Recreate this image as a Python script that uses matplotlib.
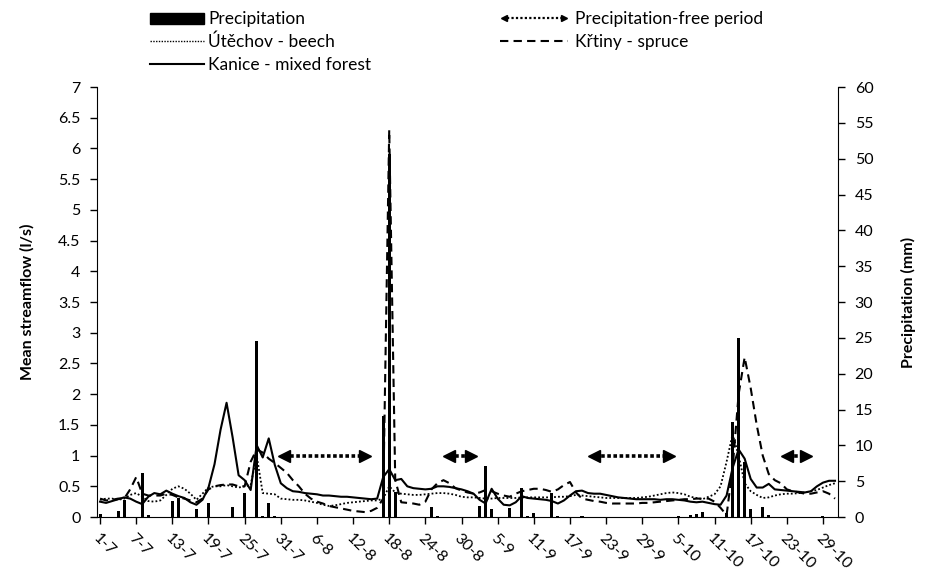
import numpy as np
import matplotlib
matplotlib.use('Agg')
import matplotlib.pyplot as plt
from matplotlib.lines import Line2D
from matplotlib.patches import Patch
from matplotlib.legend_handler import HandlerBase
from matplotlib.ticker import FormatStrFormatter, MultipleLocator

plt.rcParams['font.family'] = ['Lato', 'DejaVu Sans']
plt.rcParams['font.size'] = 11

# days 0..122 = 1-7 .. 31-10
n_days = 123
tick_labels = ['1-7', '7-7', '13-7', '19-7', '25-7', '31-7', '6-8', '12-8', '18-8',
               '24-8', '30-8', '5-9', '11-9', '17-9', '23-9', '29-9', '5-10',
               '11-10', '17-10', '23-10', '29-10']

kanice = [0.25, 0.23, 0.26, 0.29, 0.32, 0.3, 0.25, 0.21, 0.33, 0.39,
          0.37, 0.43, 0.38, 0.34, 0.31, 0.24, 0.2, 0.28, 0.48, 0.86,
          1.42, 1.86, 1.3, 0.68, 0.6, 0.44, 1.17, 0.97, 1.28, 0.85,
          0.55, 0.47, 0.42, 0.41, 0.39, 0.38, 0.37, 0.35, 0.35, 0.34,
          0.33, 0.33, 0.32, 0.31, 0.3, 0.29, 0.3, 0.65, 0.78, 0.6,
          0.62, 0.5, 0.47, 0.46, 0.45, 0.46, 0.5, 0.5, 0.49, 0.47,
          0.45, 0.42, 0.38, 0.28, 0.22, 0.46, 0.3, 0.2, 0.19, 0.24,
          0.34, 0.31, 0.3, 0.29, 0.28, 0.26, 0.22, 0.27, 0.35, 0.42,
          0.43, 0.39, 0.38, 0.38, 0.36, 0.34, 0.32, 0.31, 0.3, 0.29,
          0.29, 0.29, 0.29, 0.28, 0.29, 0.29, 0.28, 0.27, 0.25, 0.24,
          0.25, 0.23, 0.21, 0.2, 0.35, 0.8, 1.1, 0.95, 0.62, 0.48,
          0.48, 0.54, 0.45, 0.44, 0.43, 0.42, 0.41, 0.4, 0.42, 0.5,
          0.56, 0.59, 0.59]

utechov = [0.28, 0.3, 0.3, 0.28, 0.3, 0.36, 0.39, 0.33, 0.26, 0.25,
           0.27, 0.36, 0.46, 0.5, 0.46, 0.38, 0.28, 0.38, 0.48, 0.5,
           0.5, 0.52, 0.5, 0.48, 0.5, 0.52, 1.0, 0.39, 0.38, 0.37,
           0.3, 0.29, 0.28, 0.28, 0.27, 0.25, 0.23, 0.2, 0.18, 0.19,
           0.21, 0.23, 0.24, 0.25, 0.26, 0.27, 0.27, 0.3, 0.5, 0.4,
           0.38, 0.37, 0.36, 0.36, 0.37, 0.38, 0.39, 0.39, 0.38, 0.36,
           0.33, 0.32, 0.32, 0.31, 0.3, 0.3, 0.31, 0.31, 0.31, 0.31,
           0.32, 0.32, 0.32, 0.32, 0.32, 0.32, 0.33, 0.33, 0.34, 0.36,
           0.35, 0.34, 0.33, 0.32, 0.31, 0.31, 0.31, 0.31, 0.31, 0.31,
           0.32, 0.33, 0.35, 0.37, 0.39, 0.4, 0.39, 0.37, 0.33, 0.31,
           0.29, 0.33, 0.37, 0.5, 0.9, 1.35, 1.0, 0.55, 0.42, 0.36,
           0.31, 0.32, 0.35, 0.37, 0.38, 0.38, 0.39, 0.4, 0.42, 0.44,
           0.48, 0.52, 0.55]

krtiny = [0.3, 0.27, 0.28, 0.3, 0.3, 0.45, 0.65, 0.38, 0.35, 0.35,
          0.35, 0.38, 0.36, 0.32, 0.3, 0.27, 0.24, 0.3, 0.45, 0.5,
          0.52, 0.53, 0.53, 0.5, 0.5, 0.9, 1.1, 1.05, 0.95, 0.88,
          0.8, 0.72, 0.6, 0.5, 0.38, 0.3, 0.25, 0.22, 0.18, 0.16,
          0.14, 0.12, 0.1, 0.09, 0.08, 0.1, 0.15, 0.3, 6.3, 0.6,
          0.24, 0.23, 0.22, 0.2, 0.25, 0.45, 0.55, 0.6, 0.55, 0.47,
          0.43, 0.4, 0.38, 0.4, 0.44, 0.42, 0.38, 0.35, 0.33, 0.38,
          0.42, 0.44, 0.46, 0.46, 0.44, 0.41, 0.45, 0.52, 0.57, 0.4,
          0.3, 0.28, 0.26, 0.25, 0.23, 0.22, 0.22, 0.22, 0.22, 0.22,
          0.23, 0.23, 0.24, 0.25, 0.26, 0.27, 0.28, 0.29, 0.29, 0.3,
          0.3, 0.3, 0.25, 0.15, 0.03, 0.8, 2.0, 2.6, 2.1, 1.5,
          1.0, 0.7, 0.6, 0.55, 0.45, 0.42, 0.4, 0.38, 0.38, 0.4,
          0.42, 0.38, 0.3]

# precipitation only on rain days (mm)
rain_days = [0, 3, 4, 7, 8, 12, 13, 16, 18, 22, 24, 26, 27, 28, 29,
             47, 48, 49, 55, 56, 63, 64, 65, 68, 70, 71, 72, 75, 76, 80,
             96, 98, 99, 100, 104, 105, 106, 107, 108, 110, 111, 120]
rain_mm = [0.4, 0.9, 2.4, 6.1, 0.3, 2.3, 2.6, 1.1, 1.9, 1.4, 3.3, 24.5, 0.2, 1.9, 0.1,
           14.1, 50.7, 3.5, 1.35, 0.1, 1.5, 7.1, 1.1, 1.3, 4.1, 0.2, 0.5, 3.3, 0.1, 0.1,
           0.1, 0.3, 0.4, 0.7, 0.5, 13.3, 25.0, 7.7, 1.1, 1.35, 0.3, 0.2]

# precipitation-free periods (start day, end day), drawn at streamflow 1.0
dry_periods = [(29.6, 44.8), (57.0, 62.4), (81.1, 95.4), (113.2, 118.1)]
dry_level = 1.0

days = np.arange(n_days)
precip = np.zeros(n_days)
precip[rain_days] = rain_mm


class ArrowHandler(HandlerBase):
    def create_artists(self, legend, orig, xd, yd, w, h, fs, trans):
        y = h / 2 - yd
        x0, x1 = -xd, w - xd
        shaft = Line2D([x0 + 5, x1 - 5], [y, y], color='black', lw=1.6,
                       linestyle=(0, (1, 1)), transform=trans)
        left = Line2D([x0 + 3], [y], marker='<', ms=5, color='black',
                      linestyle='none', transform=trans)
        right = Line2D([x1 - 3], [y], marker='>', ms=5, color='black',
                       linestyle='none', transform=trans)
        return [shaft, left, right]


fig = plt.figure(figsize=(9.26, 5.88), dpi=100)
ax1 = fig.add_axes([0.1048, 0.1207, 0.905 - 0.1048, 0.852 - 0.1207])
ax2 = ax1.twinx()

ax2.bar(days, precip, width=0.5, color='black', zorder=1)

ax1.set_zorder(ax2.get_zorder() + 1)
ax1.patch.set_visible(False)

ax1.plot(days, utechov, color='black', lw=1.3, linestyle=(0, (1, 1.2)))
ax1.plot(days, krtiny, color='black', lw=1.5, linestyle=(0, (4, 2.5)))
ax1.plot(days, kanice, color='black', lw=1.5)

for s, e in dry_periods:
    ax1.plot([s + 1.0, e - 1.0], [dry_level, dry_level], color='black', lw=2.6,
             linestyle=(0, (1, 0.7)), solid_capstyle='butt')
    ax1.plot([s + 0.9], [dry_level], marker='<', ms=9, color='black', linestyle='none')
    ax1.plot([e - 0.9], [dry_level], marker='>', ms=9, color='black', linestyle='none')

ax1.set_xlim(-0.5, n_days - 0.5)
ax1.set_ylim(0, 7)
ax2.set_ylim(0, 60)
ax1.yaxis.set_major_locator(MultipleLocator(0.5))
ax1.yaxis.set_major_formatter(FormatStrFormatter('%g'))
ax2.yaxis.set_major_locator(MultipleLocator(5))

ax1.set_xticks(days[::6])
ax1.set_xticklabels(tick_labels, rotation=-45, ha='left', va='top',
                    rotation_mode='anchor')

for ax in (ax1, ax2):
    ax.spines['top'].set_visible(False)
    ax.tick_params(direction='out', length=5, width=1, labelsize=11.5, pad=7)
ax1.tick_params(axis='x', pad=5)
ax1.spines['right'].set_visible(False)
ax2.spines['left'].set_visible(False)
ax2.spines['bottom'].set_visible(False)

ax1.set_ylabel('Mean streamflow (l/s)', fontweight='bold', fontsize=11.5, labelpad=17)
ax2.set_ylabel('Precipitation (mm)', fontweight='bold', fontsize=11.5, labelpad=20)

legend_kw = dict(loc='upper left', frameon=False, fontsize=12.5, handleheight=0.6,
                 labelspacing=0.38, borderpad=0, borderaxespad=0)

left_handles = [Patch(facecolor='black', edgecolor='black'),
                Line2D([], [], color='black', lw=1.0, linestyle=(0, (1, 1))),
                Line2D([], [], color='black', lw=1.5)]
left_labels = ['Precipitation', 'Útěchov - beech', 'Kanice - mixed forest']
fig.legend(left_handles, left_labels, bbox_to_anchor=(0.162, 0.981),
           handlelength=3.1, handletextpad=0.25, **legend_kw)

arrow_handle = Line2D([], [], color='black')
right_handles = [arrow_handle,
                 Line2D([], [], color='black', lw=1.5, linestyle=(0, (4, 2.5)))]
right_labels = ['Precipitation-free period', 'Křtiny - spruce']
fig.legend(right_handles, right_labels, bbox_to_anchor=(0.54, 0.981),
           handlelength=3.9, handletextpad=0.4,
           handler_map={arrow_handle: ArrowHandler()}, **legend_kw)

fig.savefig('out.png', dpi=100)
